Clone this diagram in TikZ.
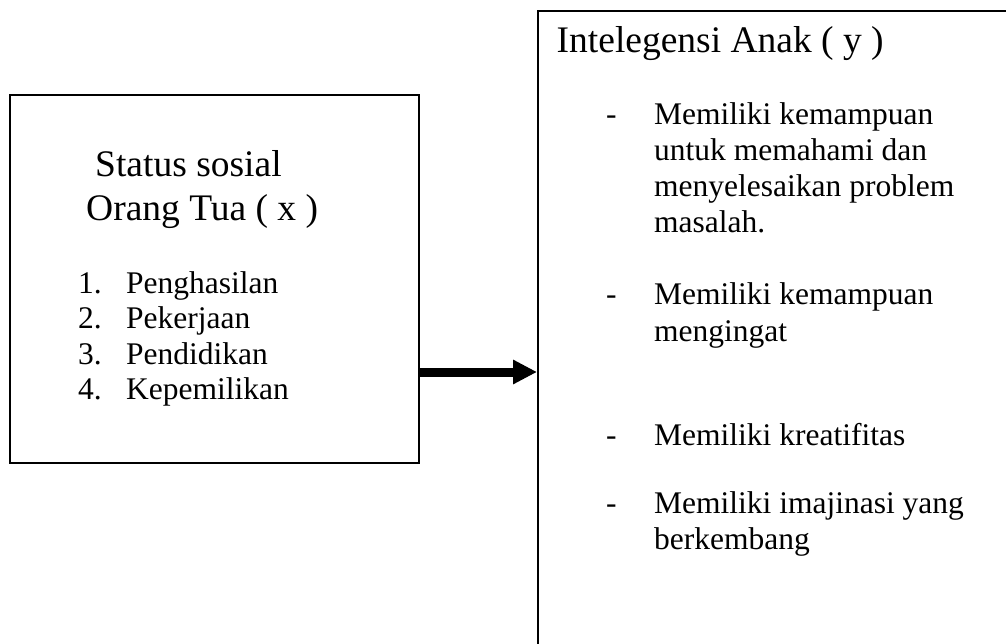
\documentclass[tikz,border=0pt]{standalone}
\usepackage{fontspec}
\setmainfont{Liberation Serif}
\usetikzlibrary{arrows.meta}
\begin{document}
\begin{tikzpicture}[x=1pt,y=-1pt,
  box/.style={draw=black,line width=1.8pt,rectangle,inner sep=0pt,anchor=north west},
  txt/.style={inner sep=0pt,anchor=base west},
  big/.style={font=\fontsize{37.5}{44}\selectfont},
  small/.style={font=\fontsize{31.5}{36}\selectfont},
  conn/.style={line width=9pt,-{Triangle[length=24pt,width=23pt]}}]
\useasboundingbox (0,0) rectangle (1006,644);
\clip (0,0) rectangle (1006,644);
% boxes
\node[box,minimum width=409pt,minimum height=368pt] (left) at (9,94) {};
\node[box,minimum width=500pt,minimum height=700pt] (right) at (537,10) {};
% left texts
\node[txt,big] (t1) at (95,177) {Status sosial};
\node[txt,big] (t2) at (86,221) {Orang Tua ( x )};
\node[txt,small] (l1) at (78,293) {1.};
\node[txt,small] (l2) at (78,328.5) {2.};
\node[txt,small] (l3) at (78,364) {3.};
\node[txt,small] (l4) at (78,399.5) {4.};
\node[txt,small] (i1) at (126,293) {Penghasilan};
\node[txt,small] (i2) at (126,328.5) {Pekerjaan};
\node[txt,small] (i3) at (126,364) {Pendidikan};
\node[txt,small] (i4) at (126,399.5) {Kepemilikan};
% right texts
\node[txt,big] (t3) at (556.5,53) {Intelegensi Anak ( y )};
\node[txt,small] (d1) at (606,125) {-};
\node[txt,small] (d2) at (606,305) {-};
\node[txt,small] (d3) at (606,445) {-};
\node[txt,small] (d4) at (606,513) {-};
\node[txt,small] (r1a) at (654,125) {Memiliki kemampuan};
\node[txt,small] (r1b) at (654,161) {untuk memahami dan};
\node[txt,small] (r1c) at (654,197) {menyelesaikan problem};
\node[txt,small] (r1d) at (654,233) {masalah.};
\node[txt,small] (r2a) at (654,305) {Memiliki kemampuan};
\node[txt,small] (r2b) at (654,341) {mengingat};
\node[txt,small] (r3) at (654,445) {Memiliki kreatifitas};
\node[txt,small] (r4a) at (654,513) {Memiliki imajinasi yang};
\node[txt,small] (r4b) at (654,549) {berkembang};
% connector
\draw[conn] (left.east |- 0,372) -- (right.west |- 0,372);
\end{tikzpicture}
\end{document}
